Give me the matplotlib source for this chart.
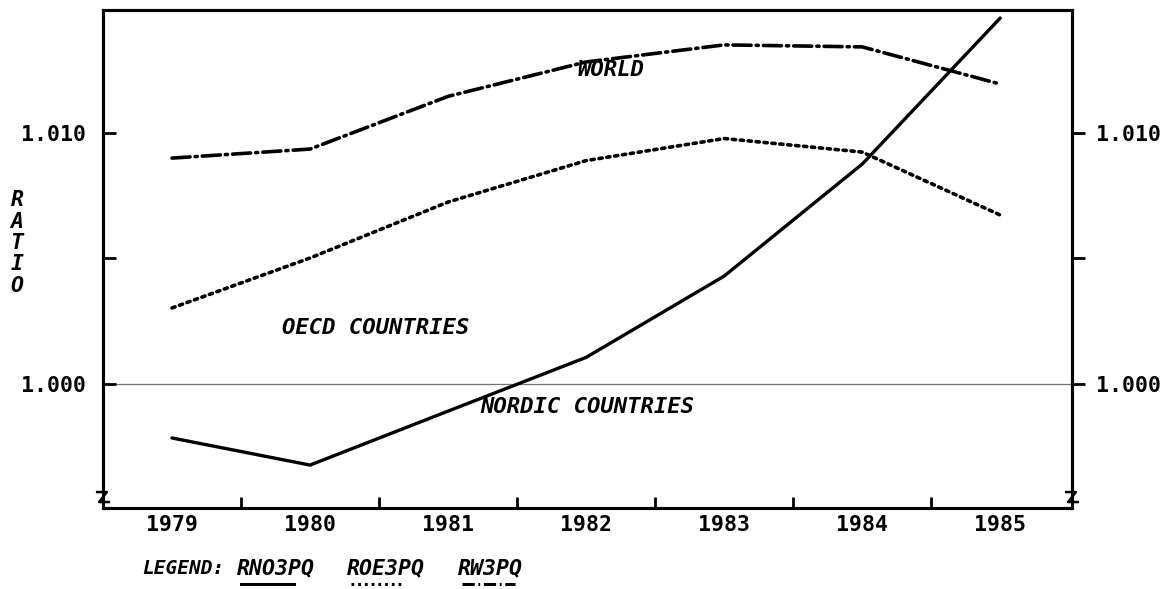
import matplotlib
matplotlib.use("Agg")
import matplotlib.pyplot as plt

years = [1979, 1980, 1981, 1982, 1983, 1984, 1985]
nordic = [0.99785, 0.99677, 0.99892, 1.00106, 1.00430, 1.00876, 1.01458]
oecd = [1.00303, 1.00502, 1.00725, 1.00890, 1.00978, 1.00924, 1.00673]
world = [1.00900, 1.00936, 1.01146, 1.01283, 1.01351, 1.01343, 1.01195]
yticks = [1.000, 1.005, 1.010]
ytick_labels = ["1.000", "", "1.010"]
xtick_minor = [1979.5, 1980.5, 1981.5, 1982.5, 1983.5, 1984.5]

W, H = 1171, 589
fig = plt.figure(figsize=(W / 100, H / 100), dpi=100)
ax = fig.add_axes([103 / W, 1 - 508 / H, (1072 - 103) / W, (508 - 10) / H])

FONT = "DejaVu Sans Mono"
FS = 15.5

ax.plot(years, nordic, color="black", lw=2.4, solid_capstyle="round")
ax.plot(years, oecd, color="black", lw=2.6, linestyle=(0, (0.9, 1.3)), dash_capstyle="round")
ax.plot(years, world, color="black", lw=2.6, linestyle=(0, (5, 1.4, 0.6, 1.4)), dash_capstyle="round")
ax.axhline(1.000, color="0.45", lw=0.9, zorder=0)

ax.set_xlim(1978.5, 1985.52)
ax.set_ylim(0.99506, 1.01490)

for s in ax.spines.values():
    s.set_linewidth(2.2)

ax.set_xticks(years)
ax.set_xticklabels([str(y) for y in years], fontfamily=FONT, fontweight="bold", fontsize=FS)
ax.tick_params(axis="x", which="major", length=0, pad=5)
ax.set_xticks(xtick_minor, minor=True)
ax.tick_params(axis="x", which="minor", direction="in", length=8, width=2)

ax.set_yticks(yticks)
ax.set_yticklabels(ytick_labels, fontfamily=FONT, fontweight="bold", fontsize=FS)
ax.tick_params(axis="y", direction="in", length=9, width=2, pad=12)

ax2 = ax.twinx()
ax2.set_ylim(ax.get_ylim())
ax2.set_yticks(yticks)
ax2.set_yticklabels(ytick_labels, fontfamily=FONT, fontweight="bold", fontsize=FS)
ax2.tick_params(axis="y", direction="out", length=9, width=2, pad=8)
for s in ax2.spines.values():
    s.set_linewidth(2.2)

for xa in (0.0, 1.0):
    ax.plot([xa - 0.006, xa + 0.004, xa - 0.004, xa + 0.006],
            [0.032, 0.032, 0.012, 0.012], transform=ax.transAxes,
            color="black", lw=1.8, clip_on=False)

for i, ch in enumerate("RATIO"):
    fig.text(17 / W, 1 - (200 + 21.5 * i) / H, ch, fontfamily=FONT, fontweight="bold",
             fontstyle="italic", fontsize=FS, ha="center", va="center")

lab = dict(fontfamily=FONT, fontweight="bold", fontstyle="italic", fontsize=FS + 0.5,
           va="center", ha="left")
ax.text(1981.94, 1.01251, "WORLD", **lab)
ax.text(1979.8, 1.00223, "OECD COUNTRIES", **lab)
ax.text(1981.23, 0.99908, "NORDIC COUNTRIES", **lab)

ly = 1 - 568 / H
fig.text(142 / W, ly, "LEGEND:", fontfamily=FONT, fontweight="bold", fontstyle="italic",
         fontsize=14, va="center", ha="left")
items = [("RNO3PQ", 237, "-"), ("ROE3PQ", 347, (0, (0.9, 1.3))),
         ("RW3PQ", 458, (0, (4, 1.2, 0.6, 1.2)))]
for name, x0, ls in items:
    fig.text(x0 / W, ly, name, fontfamily=FONT, fontweight="bold", fontstyle="italic",
             fontsize=FS, va="center", ha="left")
    fig.add_artist(plt.Line2D([(x0 + 4) / W, (x0 + 57) / W], [1 - 584 / H, 1 - 584 / H],
                              color="black", lw=2.2, linestyle=ls, transform=fig.transFigure))

fig.savefig("out.png", dpi=100)
